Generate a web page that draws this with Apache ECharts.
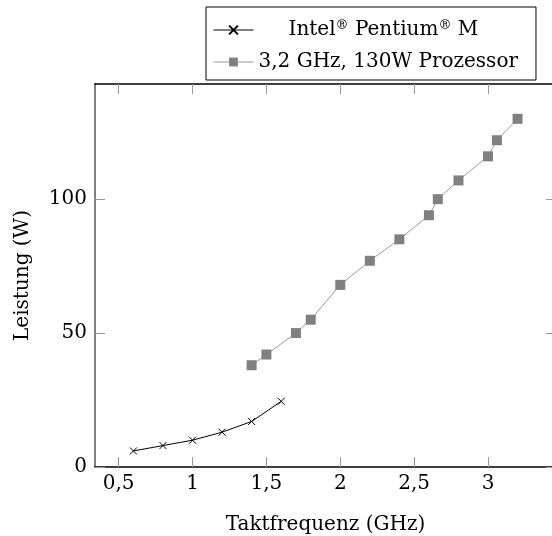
<!DOCTYPE html>
<html><head><meta charset="utf-8">
<script src="https://cdn.jsdelivr.net/npm/echarts@6/dist/echarts.min.js"></script>
<style>html,body{margin:0;padding:0;background:#fff;overflow:hidden}#c{width:552px;height:536px}</style>
</head><body><div id="c"></div>
<script>
const intelX = [0.6, 0.8, 1.0, 1.2, 1.4, 1.6];
const intelY = [6, 8, 10, 13, 17, 24.5];
const procX = [1.4, 1.5, 1.7, 1.8, 2.0, 2.2, 2.4, 2.6, 2.66, 2.8, 3.0, 3.06, 3.2];
const procY = [38, 42, 50, 55, 68, 77, 85, 94, 100, 107, 116, 122, 130];
const xTicks = [0.5, 1, 1.5, 2, 2.5, 3];
const xTickLabels = ['0,5', '1', '1,5', '2', '2,5', '3'];
const yTicks = [0, 50, 100];
const yTickLabels = ['0', '50', '100'];
const seriesNames = ['Intel® Pentium® M', '3,2 GHz, 130W Prozessor'];
const xName = 'Taktfrequenz (GHz)';
const yName = 'Leistung (W)';

const FONT = 'DejaVu Serif';
const FS = 20;
const chart = echarts.init(document.getElementById('c'), null, {renderer: 'canvas'});
const xMin = 0.34, xMax = 3.46, yMin = 0, yMax = 143;
const fmtX = v => { const i = xTicks.findIndex(t => Math.abs(t - v) < 1e-6); return i >= 0 ? xTickLabels[i] : ''; };
const fmtY = v => { const i = yTicks.findIndex(t => Math.abs(t - v) < 1e-6); return i >= 0 ? yTickLabels[i] : ''; };
const tickStyle = {show: true, inside: true, length: 10, lineStyle: {color: '#999', width: 1}};
chart.setOption({
  animation: false,
  grid: {left: 95, top: 84, right: -4, bottom: 69, containLabel: false, outerBoundsMode: 'none'},
  legend: {
    left: 206, top: 7, orient: 'vertical',
    padding: [11, 18, 6, 7], itemGap: 8, itemWidth: 40, itemHeight: 11,
    borderColor: '#000', borderWidth: 1, backgroundColor: '#fff',
    data: seriesNames,
    lineStyle: {width: 1},
    textStyle: {
      fontFamily: FONT, fontSize: FS, color: '#000', lineHeight: 24,
      rich: {
        a: {fontFamily: FONT, fontSize: FS, color: '#000', lineHeight: 24},
        s: {fontFamily: FONT, fontSize: 13, color: '#000', padding: [0, 0, 8, 0], lineHeight: 24},
        p: {width: 30}
      }
    },
    formatter: name => {
      if (name === seriesNames[0]) return '{p|}{a|Intel}{s|®}{a| Pentium}{s|®}{a| M}';
      return '{a|' + name + '}';
    }
  },
  xAxis: [{
    type: 'value', min: xMin, max: xMax, position: 'bottom',
    name: xName, nameLocation: 'middle', nameGap: 48,
    nameTextStyle: {fontFamily: FONT, fontSize: FS, color: '#000'},
    axisLine: {show: true, onZero: false, lineStyle: {color: '#000', width: 1.5}},
    axisTick: Object.assign({customValues: xTicks}, tickStyle),
    axisLabel: {customValues: xTicks, formatter: fmtX, fontFamily: FONT, fontSize: FS, color: '#000', margin: 7},
    splitLine: {show: false}
  }, {
    type: 'value', min: xMin, max: xMax, position: 'top',
    axisLine: {show: true, onZero: false, lineStyle: {color: '#000', width: 1.5}},
    axisTick: Object.assign({customValues: xTicks}, tickStyle),
    axisLabel: {show: false}, splitLine: {show: false}
  }],
  yAxis: [{
    type: 'value', min: yMin, max: yMax, position: 'left',
    name: yName, nameLocation: 'middle', nameGap: 62, nameRotate: 90,
    nameTextStyle: {fontFamily: FONT, fontSize: FS, color: '#000'},
    axisLine: {show: true, onZero: false, lineStyle: {color: '#808080', width: 2}},
    axisTick: Object.assign({customValues: yTicks}, tickStyle),
    axisLabel: {customValues: yTicks, formatter: fmtY, fontFamily: FONT, fontSize: FS, color: '#000', margin: 8},
    splitLine: {show: false}
  }, {
    type: 'value', min: yMin, max: yMax, position: 'right',
    axisLine: {show: true, onZero: false, lineStyle: {color: '#000', width: 1.5}},
    axisTick: Object.assign({customValues: yTicks}, tickStyle),
    axisLabel: {show: false}, splitLine: {show: false}
  }],
  series: [{
    name: seriesNames[0], type: 'line',
    data: intelX.map((x, i) => [x, intelY[i]]),
    symbol: 'path://M0,0L10,10M0,10L10,0', symbolSize: 7,
    itemStyle: {color: '#000', borderColor: '#000', borderWidth: 1},
    lineStyle: {color: '#000', width: 1}, z: 3
  }, {
    name: seriesNames[1], type: 'line',
    data: procX.map((x, i) => [x, procY[i]]),
    symbol: 'rect', symbolSize: 10,
    itemStyle: {color: '#808080', borderWidth: 0},
    lineStyle: {color: '#9a9a9a', width: 1}, z: 2
  }]
});
</script></body></html>
